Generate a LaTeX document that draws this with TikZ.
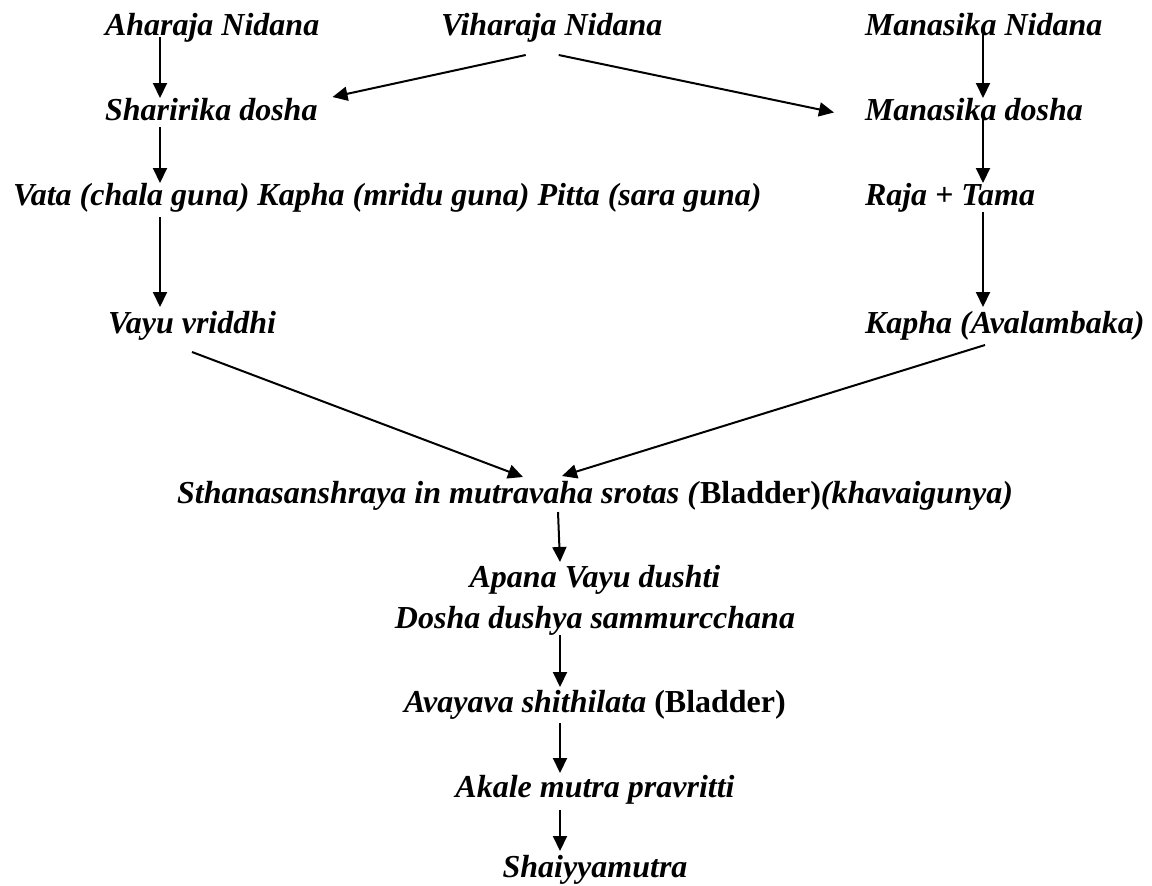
\documentclass[tikz,border=0pt]{standalone}
\usepackage{fontspec}
\setmainfont{Liberation Serif}
\usepackage{tikz}
\usetikzlibrary{arrows.meta,calc}
\tikzset{flow/.style={line width=1pt,-{Triangle[length=7.5pt,width=7pt]}}}
\tikzset{term/.style={inner sep=0pt,outer sep=0pt,text height=11pt,text depth=3.5pt,
    font=\fontsize{16}{19}\selectfont\bfseries\itshape}}

\begin{document}
\begin{tikzpicture}[x=0.5pt,y=-0.5pt]
        \useasboundingbox (0,0) rectangle (1152,885);
        % Columns of the arrows
        \coordinate (lcol) at (160,0);
        \coordinate (rcol) at (983,0);
        \coordinate (ccol) at (560,0);
        % Causes
        \node[term,anchor=base west] (aharaja) at (105,35) {Aharaja Nidana};
        \node[term,anchor=base west] (viharaja) at (441,35) {Viharaja Nidana};
        \node[term,anchor=base west] (manasikaN) at (865,35) {Manasika Nidana};
        % Doshas
        \node[term,anchor=base west] (sharirika) at (105,120) {Sharirika dosha};
        \node[term,anchor=base west] (manasikaD) at (865,120) {Manasika dosha};
        \node[term,anchor=base west] (tridosha) at (13,205)
        {Vata (chala guna) Kapha (mridu guna) Pitta (sara guna)};
        \node[term,anchor=base west] (rajatama) at (865,205) {Raja + Tama};
        \node[term,anchor=base west] (vayu) at (108,333) {Vayu vriddhi};
        \node[term,anchor=base west] (kapha) at (865,333) {Kapha (Avalambaka)};
        % Middle column
        \node[term,anchor=base] (sthana) at (595,503)
        {Sthanasanshraya in mutravaha srotas (\textup{Bladder)}(khavaigunya)};
        \node[term,anchor=base] (apana) at (595,587) {Apana Vayu dushti};
        \node[term,anchor=base] (murchana) at (595,628) {Dosha dushya sammurcchana};
        \node[term,anchor=base] (avayava) at (595,712)
        {Avayava shithilata \textup{(Bladder)}};
        \node[term,anchor=base] (akale) at (595,797) {Akale mutra pravritti};
        \node[term,anchor=base] (shaiyya) at (595,877) {Shaiyyamutra};
        % Left column arrows
        \draw[flow] ($(aharaja.south -| lcol)+(0,-5)$) -- (sharirika.north -| lcol);
        \draw[flow] (sharirika.south -| lcol) -- (tridosha.north -| lcol);
        \draw[flow] ($(tridosha.south -| lcol)+(0,5)$) -- ($(vayu.north -| lcol)+(0,-4)$);
        % Right column arrows
        \draw[flow] ($(manasikaN.south -| rcol)+(0,-15)$) -- (manasikaD.north -| rcol);
        \draw[flow] ($(manasikaD.south -| rcol)+(0,-14)$) -- (rajatama.north -| rcol);
        \draw[flow] (rajatama.south -| rcol) -- ($(kapha.north -| rcol)+(0,-4)$);
        % Vihara goes both ways
        \draw[flow] ($(viharaja.south)+(-26,13)$) -- ($(sharirika.north east)+(15,-1)$);
        \draw[flow] ($(viharaja.south)+(7,13)$) -- ($(manasikaD.west)+(-31,0)$);
        % Both meet in the bladder
        \draw[flow] ($(vayu.south)+(0,12)$) -- ($(sthana.north)+(-72,-4)$);
        \draw[flow] ($(kapha.south -| rcol)+(2,5)$) -- ($(sthana.north)+(-33,-5)$);
        % Down the middle
        \draw[flow] ($(sthana.south -| ccol)+(-2,2)$) -- ($(apana.north -| ccol)+(0,-3)$);
        \draw[flow] (murchana.south -| ccol) -- ($(avayava.north -| ccol)+(0,-3)$);
        \draw[flow] ($(avayava.south -| ccol)+(0,4)$) -- ($(akale.north -| ccol)+(0,-2)$);
        \draw[flow] ($(akale.south -| ccol)+(0,6)$) -- ($(shaiyya.north -| ccol)+(0,-4)$);
\end{tikzpicture}
\end{document}
